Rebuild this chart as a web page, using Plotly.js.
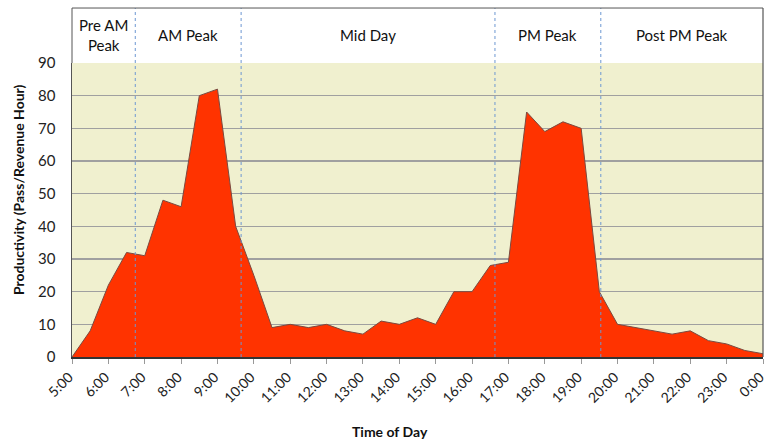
<!DOCTYPE html>
<html>
<head>
<meta charset="utf-8">
<script src="https://cdn.plot.ly/plotly-3.0.1.min.js"></script>
<style>html,body{margin:0;padding:0;background:#fff;}#chart{width:768px;height:441px;}</style>
</head>
<body>
<div id="chart"></div>
<script>
// Half-hourly time slots
const times = ["5:00","5:30","6:00","6:30","7:00","7:30","8:00","8:30","9:00","9:30",
  "10:00","10:30","11:00","11:30","12:00","12:30","13:00","13:30","14:00","14:30",
  "15:00","15:30","16:00","16:30","17:00","17:30","18:00","18:30","19:00","19:30",
  "20:00","20:30","21:00","21:30","22:00","22:30","23:00","23:30","0:00"];
// Productivity (passengers per revenue hour)
const productivity = [0,8,22,32,31,48,46,80,82,40,
  25,9,10,9,10,8,7,11,10,12,
  10,20,20,28,29,75,69,72,70,20,
  10,9,8,7,8,5,4,2,1];
// Hour tick labels
const hourTicks = ["5:00","6:00","7:00","8:00","9:00","10:00","11:00","12:00","13:00","14:00",
  "15:00","16:00","17:00","18:00","19:00","20:00","21:00","22:00","23:00","0:00"];
// Period names and their boundaries (in half-hour slot index units)
const periods = ["Pre AM<br>Peak","AM Peak","Mid Day","PM Peak","Post PM Peak"];
const periodBounds = [0, 3.48, 9.3, 23.26, 29.08, 38];

const HEAD = 1.187;
const font = "Lato, 'Open Sans', sans-serif";

const shapes = [];
for (let i = 1; i < periodBounds.length - 1; i++) {
  shapes.push({type:'line', xref:'x', yref:'paper', x0:periodBounds[i], x1:periodBounds[i],
    y0:0, y1:HEAD, line:{color:'#6c97d2', width:1, dash:'dot'}, layer:'above'});
}
shapes.push({type:'line', xref:'paper', yref:'paper', x0:0, x1:1, y0:HEAD, y1:HEAD, line:{color:'#555', width:1}});
shapes.push({type:'line', xref:'paper', yref:'paper', x0:0, x1:0, y0:1, y1:HEAD, line:{color:'#555', width:1}});
shapes.push({type:'line', xref:'paper', yref:'paper', x0:1, x1:1, y0:0, y1:HEAD, line:{color:'#555', width:1.2}, layer:'above'});

const annotations = periods.map((p, i) => ({
  text: p, xref:'x', yref:'paper',
  x: (periodBounds[i] + periodBounds[i+1]) / 2, y: 1.094,
  showarrow:false, font:{family:font, size:15, color:'#111'}, xanchor:'center', yanchor:'middle'
}));
annotations.push({text:'<b>Productivity (Pass/Revenue Hour)</b>', xref:'paper', yref:'paper',
  x:-0.078, y:0.568, textangle:-90, showarrow:false, font:{family:font, size:14, color:'#111'},
  xanchor:'center', yanchor:'middle'});
annotations.push({text:'<b>Time of Day</b>', xref:'paper', yref:'paper',
  x:0.46, y:-0.252, showarrow:false, font:{family:font, size:14, color:'#111'},
  xanchor:'center', yanchor:'middle'});

const trace = {
  x: times, y: productivity, type:'scatter', mode:'lines',
  fill:'tozeroy', fillcolor:'#FF3300',
  line:{color:'#7a4a40', width:1}, hoverinfo:'x+y'
};

const layout = {
  width:768, height:441,
  margin:{l:72, r:5, t:63, b:84},
  paper_bgcolor:'#ffffff', plot_bgcolor:'#F0F0CF',
  showlegend:false,
  font:{family:font, size:15, color:'#222'},
  xaxis:{type:'category', range:[0, 38], tickmode:'array', tickvals:hourTicks, ticktext:hourTicks,
    tickangle:-45, ticks:'outside', ticklen:5, tickcolor:'#999', tickwidth:1,
    ticklabelshift:-3,
    showgrid:false, showline:true, linecolor:'#333', linewidth:1.5, zeroline:false,
    tickfont:{family:font, size:14, color:'#222'}, fixedrange:true},
  yaxis:{range:[0, 90], dtick:10, showgrid:true, gridcolor:'#A0A0A0', gridwidth:1.5,
    showline:true, linecolor:'#555', linewidth:1.5, zeroline:false, ticks:'',
    ticklabelstandoff:12, tickfont:{family:font, size:15, color:'#222'}, fixedrange:true},
  shapes: shapes,
  annotations: annotations
};

Plotly.newPlot('chart', [trace], layout, {displayModeBar:false, staticPlot:true});
</script>
</body>
</html>
